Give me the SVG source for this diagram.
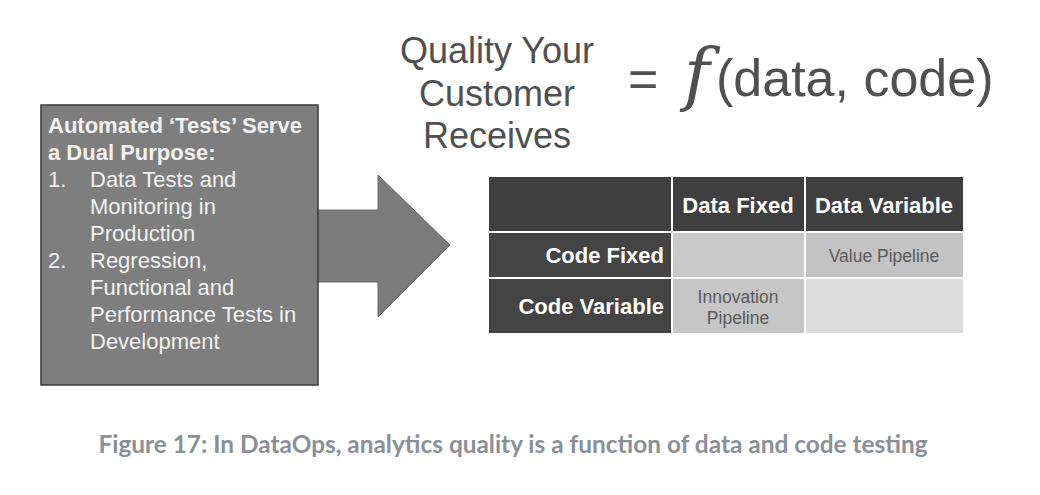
<svg xmlns="http://www.w3.org/2000/svg" width="1040" height="495" viewBox="0 0 1040 495">
<style>
.box{fill:#7e7e7e;stroke:#3a3a3a;stroke-width:1.5}
.arrow{fill:#7b7b7b;stroke:#6a6a6a;stroke-width:1}
.bt{font-family:"Liberation Sans",Arial,sans-serif;font-size:22px;fill:#f2f2f2}
.b{font-weight:bold}
.eq{font-family:"Liberation Sans",Arial,sans-serif;fill:#505050}
.fx{font-family:"DejaVu Serif","Liberation Serif",serif;font-style:italic;font-size:70px;fill:#505050}
.hd{fill:#3f3f3f}
.th{font-family:"Liberation Sans",Arial,sans-serif;font-size:22px;font-weight:bold;fill:#ffffff}
.tc{font-family:"Liberation Sans",Arial,sans-serif;font-size:17.5px;fill:#5a5a5a}
.cap{font-family:Lato,"Liberation Sans",sans-serif;font-size:24.4px;font-weight:bold;fill:#8a9096}
</style>
<rect width="1040" height="495" fill="#ffffff"/>
<g id="arrow">
<polygon class="arrow" points="316,210 378,210 378,175 450,245 378,317 378,282 316,282"/>
</g>
<g id="tests-box">
<rect class="box" x="41" y="105" width="277" height="280"/>
<text class="bt b" x="48" y="133">Automated ‘Tests’ Serve</text>
<text class="bt b" x="48" y="160">a Dual Purpose:</text>
<text class="bt" x="48" y="187">1.</text>
<text class="bt" x="90" y="187">Data Tests and</text>
<text class="bt" x="90" y="214">Monitoring in</text>
<text class="bt" x="90" y="241">Production</text>
<text class="bt" x="48" y="268">2.</text>
<text class="bt" x="90" y="268">Regression,</text>
<text class="bt" x="90" y="295">Functional and</text>
<text class="bt" x="90" y="322">Performance Tests in</text>
<text class="bt" x="90" y="349">Development</text>
</g>
<g id="equation">
<text class="eq" x="497" y="63" font-size="36" text-anchor="middle">Quality Your</text>
<text class="eq" x="497" y="106" font-size="36" text-anchor="middle">Customer</text>
<text class="eq" x="497" y="148" font-size="36" text-anchor="middle">Receives</text>
<text class="eq" x="628" y="97" font-size="52">=</text>
<text class="fx" x="684" y="98">f</text>
<text class="eq" x="716" y="96" font-size="52">(data, code)</text>
</g>
<g id="table">
<rect class="hd" x="489" y="177" width="182" height="54"/>
<rect class="hd" x="673" y="177" width="131" height="54"/>
<rect class="hd" x="806" y="177" width="157" height="54"/>
<rect fill="#444444" x="489" y="233" width="182" height="44"/>
<rect fill="#444444" x="489" y="279" width="182" height="54"/>
<rect fill="#c9c9c9" x="673" y="233" width="131" height="44"/>
<rect fill="#c3c3c3" x="806" y="233" width="157" height="44"/>
<rect fill="#c6c6c6" x="673" y="279" width="131" height="54"/>
<rect fill="#dcdcdc" x="806" y="279" width="157" height="54"/>
<text class="th" x="738" y="213" text-anchor="middle">Data Fixed</text>
<text class="th" x="884" y="213" text-anchor="middle">Data Variable</text>
<text class="th" x="664" y="263" text-anchor="end">Code Fixed</text>
<text class="th" x="664" y="314" text-anchor="end">Code Variable</text>
<text class="tc" x="884" y="262" text-anchor="middle">Value Pipeline</text>
<text class="tc" x="738" y="303" text-anchor="middle">Innovation</text>
<text class="tc" x="738" y="324" text-anchor="middle">Pipeline</text>
</g>
<text class="cap" x="513" y="453" text-anchor="middle">Figure 17: In DataOps, analytics quality is a function of data and code testing</text>
</svg>
